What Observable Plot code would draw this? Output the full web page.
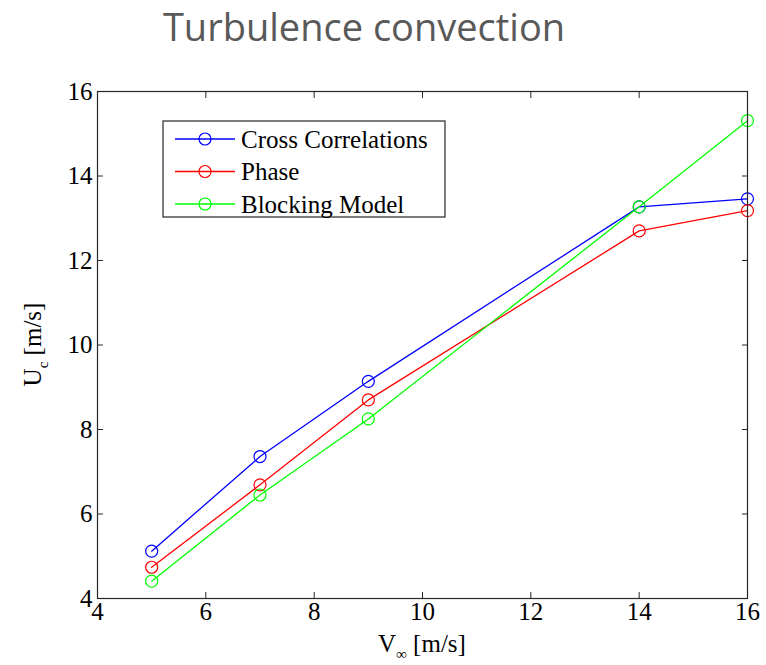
<!DOCTYPE html>
<html><head><meta charset="utf-8">
<script src="https://cdn.jsdelivr.net/npm/d3@7"></script>
<script src="https://cdn.jsdelivr.net/npm/@observablehq/plot@0.6"></script>
<style>
body{margin:0;background:#fff;}
#title{height:65px;width:766px;position:relative;overflow:hidden;}
#title span{position:absolute;left:364px;top:0px;transform:translateX(-50%);font-family:"Open Sans";font-size:38px;color:#595959;white-space:nowrap;}
</style></head>
<body>
<div id="title"><span>Turbulence convection</span></div>
<div id="chart"></div>
<script>
const vInf = [5, 7, 9, 14, 16];
const crossCorrelations = [5.12, 7.36, 9.14, 13.27, 13.46];
const phase = [4.74, 6.69, 8.70, 12.70, 13.18];
const blockingModel = [4.41, 6.45, 8.25, 13.27, 15.31];
const seriesNames = ["Cross Correlations", "Phase", "Blocking Model"];
const seriesColors = ["#0000ff", "#ff0000", "#00ff00"];
const xTicks = [4, 6, 8, 10, 12, 14, 16];
const yTicks = [4, 6, 8, 10, 12, 14, 16];

const rows = [];
[crossCorrelations, phase, blockingModel].forEach((vals, s) =>
  vals.forEach((u, i) => rows.push({series: seriesNames[s], v: vInf[i], u})));

const font = "'Liberation Serif', 'Times New Roman', serif";
const noText = () => "";
const plot = Plot.plot({
  width: 766, height: 600,
  marginTop: 26, marginBottom: 67, marginLeft: 97, marginRight: 19,
  style: {fontFamily: font, fontSize: "25px", color: "#000", background: "#fff", overflow: "visible"},
  x: {domain: [4, 16]},
  y: {domain: [4, 16]},
  color: {domain: seriesNames, range: seriesColors},
  marks: [
    Plot.line(rows, {x: "v", y: "u", z: "series", stroke: "series", strokeWidth: 1.3}),
    Plot.dot(rows, {x: "v", y: "u", stroke: "series", r: 6, strokeWidth: 1.2, fill: "none"}),
    Plot.frame({stroke: "#262626", strokeWidth: 1.2}),
    Plot.axisX(xTicks, {anchor: "bottom", tickSize: 0, tickPadding: 4, label: null}),
    Plot.axisX(xTicks, {anchor: "bottom", tickSize: -6, tickFormat: noText, label: null, stroke: "#262626"}),
    Plot.axisX(xTicks, {anchor: "top", tickSize: -6, tickFormat: noText, label: null, stroke: "#262626"}),
    Plot.axisY(yTicks, {anchor: "left", tickSize: 0, tickPadding: 5, label: null}),
    Plot.axisY(yTicks, {anchor: "left", tickSize: -6, tickFormat: noText, label: null, stroke: "#262626"}),
    Plot.axisY(yTicks, {anchor: "right", tickSize: -6, tickFormat: noText, label: null, stroke: "#262626"})
  ]
});
document.getElementById("chart").appendChild(plot);

const svg = d3.select(plot);
const xs = plot.scale("x"), ys = plot.scale("y");

// axis labels with subscripts
const xl = svg.append("text")
  .attr("x", xs.apply(10)).attr("y", 587)
  .attr("text-anchor", "middle")
  .attr("font-family", font).attr("font-size", 25).attr("fill", "#000");
xl.append("tspan").text("V");
xl.append("tspan").attr("font-size", 15).attr("dy", 7).text("\u221E");
xl.append("tspan").attr("dy", -7).text(" [m/s]");

const yl = svg.append("text")
  .attr("transform", `translate(41,${ys.apply(10)}) rotate(-90)`)
  .attr("text-anchor", "middle")
  .attr("font-family", font).attr("font-size", 25).attr("fill", "#000");
yl.append("tspan").text("U");
yl.append("tspan").attr("font-size", 15).attr("dy", 7).text("c");
yl.append("tspan").attr("dy", -7).text(" [m/s]");

// legend
const lg = svg.append("g").attr("font-family", font).attr("font-size", 25).attr("text-anchor", "start");
lg.append("rect").attr("x", 163).attr("y", 56).attr("width", 282).attr("height", 96)
  .attr("fill", "#fff").attr("stroke", "#262626").attr("stroke-width", 1.2);
seriesNames.forEach((name, i) => {
  const cy = 74 + i * 32.5;
  lg.append("line").attr("x1", 175).attr("x2", 235).attr("y1", cy).attr("y2", cy)
    .attr("stroke", seriesColors[i]).attr("stroke-width", 1.3);
  lg.append("circle").attr("cx", 205).attr("cy", cy).attr("r", 6)
    .attr("fill", "none").attr("stroke", seriesColors[i]).attr("stroke-width", 1.2);
  lg.append("text").attr("x", 241).attr("y", cy).attr("dy", "0.35em")
    .attr("text-anchor", "start").attr("fill", "#000").text(name);
});
</script>
</body></html>
